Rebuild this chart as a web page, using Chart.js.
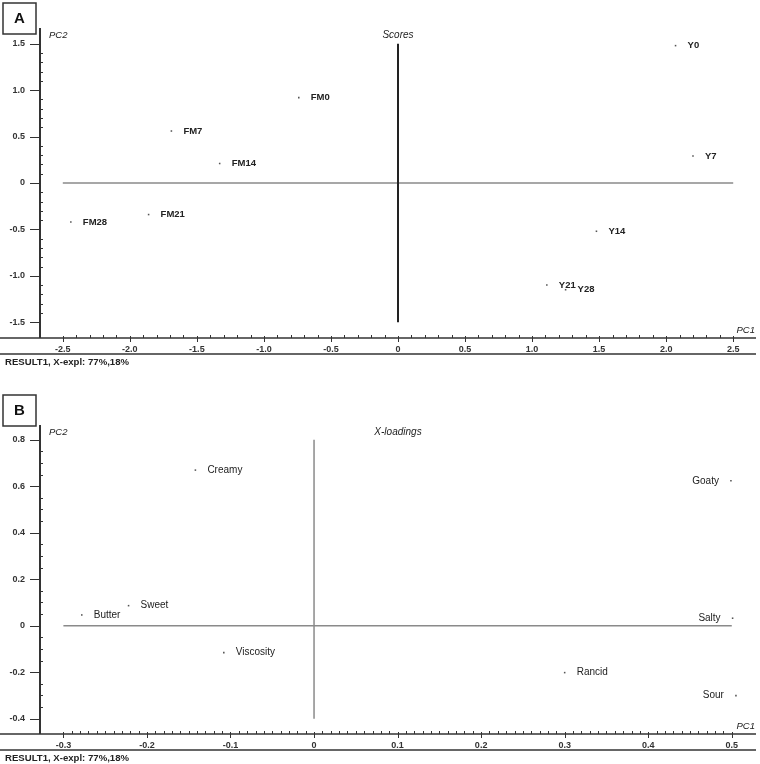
<!DOCTYPE html>
<html>
<head>
<meta charset="utf-8">
<script src="https://cdn.jsdelivr.net/npm/chart.js@4"></script>
<style>
  html, body { margin: 0; padding: 0; background: #fff; }
  canvas { display: block; }
</style>
</head>
<body>
<canvas id="scoresChart" width="760" height="382"></canvas>
<canvas id="loadingsChart" width="760" height="382"></canvas>
<script>
// Panel A: scores
const scoreNames = ['FM0', 'FM7', 'FM14', 'FM21', 'FM28', 'Y0', 'Y7', 'Y14', 'Y21', 'Y28'];
const scorePC1 = [-0.74, -1.69, -1.33, -1.86, -2.44, 2.07, 2.20, 1.48, 1.11, 1.25];
const scorePC2 = [0.92, 0.56, 0.21, -0.34, -0.42, 1.48, 0.29, -0.52, -1.10, -1.15];
const scoreTicksX = [-2.5, -2.0, -1.5, -1.0, -0.5, 0, 0.5, 1.0, 1.5, 2.0, 2.5];
const scoreTicksY = [-1.5, -1.0, -0.5, 0, 0.5, 1.0, 1.5];

// Panel B: X-loadings
const loadingNames = ['Creamy', 'Sweet', 'Butter', 'Viscosity', 'Goaty', 'Salty', 'Rancid', 'Sour'];
const loadingPC1 = [-0.142, -0.222, -0.278, -0.108, 0.499, 0.501, 0.300, 0.505];
const loadingPC2 = [0.669, 0.086, 0.046, -0.116, 0.623, 0.032, -0.202, -0.301];
const loadingTicksX = [-0.3, -0.2, -0.1, 0, 0.1, 0.2, 0.3, 0.4, 0.5];
const loadingTicksY = [-0.4, -0.2, 0, 0.2, 0.4, 0.6, 0.8];

const FONT = '"Liberation Sans", Arial, sans-serif';
const fmt = v => Math.abs(v) < 1e-9 ? '0' : v.toFixed(1);

const decorations = {
  id: 'decorations',
  beforeDatasetsDraw(chart) {
    const o = chart.options.plugins.decorations;
    const { ctx, chartArea: a, scales: { x, y } } = chart;
    ctx.save();
    // zero lines
    ctx.strokeStyle = '#8a8a8a';
    ctx.lineWidth = 1.5;
    ctx.beginPath();
    ctx.moveTo(x.getPixelForValue(o.hLine[0]), y.getPixelForValue(0));
    ctx.lineTo(x.getPixelForValue(o.hLine[1]), y.getPixelForValue(0));
    ctx.stroke();
    ctx.strokeStyle = o.vColor;
    ctx.lineWidth = o.vWidth;
    ctx.beginPath();
    ctx.moveTo(x.getPixelForValue(0), y.getPixelForValue(o.vLine[0]));
    ctx.lineTo(x.getPixelForValue(0), y.getPixelForValue(o.vLine[1]));
    ctx.stroke();

    // axes
    ctx.strokeStyle = '#333';
    ctx.lineWidth = 1.5;
    ctx.beginPath();
    ctx.moveTo(0, a.bottom);
    ctx.lineTo(a.right, a.bottom);
    ctx.stroke();
    ctx.lineWidth = 2;
    ctx.beginPath();
    ctx.moveTo(a.left, a.top);
    ctx.lineTo(a.left, a.bottom);
    ctx.stroke();

    // ticks
    ctx.lineWidth = 1;
    const xt = o.xTicks, yt = o.yTicks;
    ctx.beginPath();
    xt.forEach(v => {
      const px = Math.round(x.getPixelForValue(v)) + 0.5;
      ctx.moveTo(px, a.bottom - 2); ctx.lineTo(px, a.bottom + 4);
    });
    for (let i = 0; i < xt.length - 1; i++) {
      for (let k = 1; k < o.xSub; k++) {
        const px = Math.round(x.getPixelForValue(xt[i] + (xt[i + 1] - xt[i]) * k / o.xSub)) + 0.5;
        ctx.moveTo(px, a.bottom); ctx.lineTo(px, a.bottom - 3);
      }
    }
    yt.forEach(v => {
      const py = Math.round(y.getPixelForValue(v)) + 0.5;
      ctx.moveTo(a.left - 10, py); ctx.lineTo(a.left + 1, py);
    });
    for (let i = 0; i < yt.length - 1; i++) {
      for (let k = 1; k < o.ySub; k++) {
        const py = Math.round(y.getPixelForValue(yt[i] + (yt[i + 1] - yt[i]) * k / o.ySub)) + 0.5;
        ctx.moveTo(a.left, py); ctx.lineTo(a.left + 3, py);
      }
    }
    ctx.stroke();

    // bottom rule and footer
    ctx.strokeStyle = '#333';
    ctx.lineWidth = 1.5;
    ctx.beginPath();
    ctx.moveTo(0, a.bottom + 16);
    ctx.lineTo(a.right, a.bottom + 16);
    ctx.stroke();
    ctx.fillStyle = '#222';
    ctx.textBaseline = 'middle';
    ctx.textAlign = 'left';
    ctx.font = 'bold 9.6px ' + FONT;
    ctx.fillText('RESULT1, X-expl: 77%,18%', 5, a.bottom + 24);

    // titles
    ctx.font = 'italic 9.5px ' + FONT;
    ctx.fillText('PC2', 49, a.top + 7);
    ctx.textAlign = 'right';
    ctx.fillText('PC1', a.right - 1, a.bottom - 8);
    ctx.textAlign = 'center';
    ctx.font = 'italic 10px ' + FONT;
    ctx.fillText(o.title, (a.left + a.right) / 2, a.top + 7);

    // panel letter
    ctx.fillStyle = '#fff';
    ctx.strokeStyle = '#333';
    ctx.lineWidth = 1.5;
    ctx.fillRect(3, o.boxTop, 33, 31);
    ctx.strokeRect(3, o.boxTop, 33, 31);
    ctx.fillStyle = '#111';
    ctx.font = 'bold 15px ' + FONT;
    ctx.fillText(o.letter, 19.5, o.boxTop + 16);
    ctx.restore();
  },
  afterDatasetsDraw(chart) {
    const o = chart.options.plugins.decorations;
    const { ctx } = chart;
    const meta = chart.getDatasetMeta(0);
    ctx.save();
    ctx.fillStyle = '#222';
    ctx.textBaseline = 'middle';
    ctx.font = o.labelFont;
    meta.data.forEach((pt, i) => {
      const left = o.leftLabels.includes(o.names[i]);
      ctx.textAlign = left ? 'right' : 'left';
      ctx.fillText(o.names[i], pt.x + (left ? -12 : 12), pt.y);
    });
    ctx.restore();
  }
};

function scatterPanel(canvasId, p) {
  const tickFont = { family: FONT, size: 9, weight: 'bold' };
  return new Chart(document.getElementById(canvasId), {
    type: 'scatter',
    data: {
      datasets: [{
        data: p.pc1.map((v, i) => ({ x: v, y: p.pc2[i] })),
        pointStyle: 'rect',
        pointRadius: 1.1,
        pointBackgroundColor: '#555',
        pointBorderWidth: 0,
      }],
    },
    options: {
      responsive: false,
      animation: false,
      layout: { padding: { left: 0, right: 2, top: p.padTop, bottom: p.padBottom } },
      plugins: {
        legend: { display: false },
        tooltip: { enabled: false },
        decorations: {
          title: p.title, letter: p.letter, boxTop: p.boxTop,
          xTicks: p.xTicks, yTicks: p.yTicks, xSub: p.xSub, ySub: p.ySub,
          hLine: p.hLine, vLine: p.vLine, vColor: p.vColor, vWidth: p.vWidth,
          names: p.names, leftLabels: p.leftLabels, labelFont: p.labelFont,
        },
      },
      scales: {
        x: {
          type: 'linear', min: p.xRange[0], max: p.xRange[1],
          grid: { display: false, drawTicks: false }, border: { display: false },
          afterBuildTicks: s => { s.ticks = p.xTicks.map(v => ({ value: v })); },
          afterFit: s => { s.height = 16; },
          ticks: { font: tickFont, color: '#333', padding: 6, maxRotation: 0, autoSkip: false, callback: fmt },
        },
        y: {
          type: 'linear', min: p.yRange[0], max: p.yRange[1],
          grid: { display: false, drawTicks: false }, border: { display: false },
          afterBuildTicks: s => { s.ticks = p.yTicks.map(v => ({ value: v })); },
          afterFit: s => { s.width = 40; },
          ticks: { font: tickFont, color: '#333', padding: 15, autoSkip: false, callback: fmt },
        },
      },
    },
    plugins: [decorations],
  });
}

scatterPanel('scoresChart', {
  title: 'Scores', letter: 'A', boxTop: 3,
  pc1: scorePC1, pc2: scorePC2, names: scoreNames, leftLabels: [],
  labelFont: 'bold 9.5px ' + FONT,
  xRange: [-2.67, 2.67], yRange: [-1.67, 1.67],
  xTicks: scoreTicksX, yTicks: scoreTicksY, xSub: 5, ySub: 5,
  hLine: [-2.5, 2.5], vLine: [-1.5, 1.5], vColor: '#222', vWidth: 2,
  padTop: 28, padBottom: 28,
});

scatterPanel('loadingsChart', {
  title: 'X-loadings', letter: 'B', boxTop: 13,
  pc1: loadingPC1, pc2: loadingPC2, names: loadingNames, leftLabels: ['Goaty', 'Salty', 'Sour'],
  labelFont: '10px ' + FONT,
  xRange: [-0.328, 0.529], yRange: [-0.466, 0.863],
  xTicks: loadingTicksX, yTicks: loadingTicksY, xSub: 10, ySub: 4,
  hLine: [-0.3, 0.5], vLine: [-0.4, 0.8], vColor: '#8a8a8a', vWidth: 1.5,
  padTop: 43, padBottom: 14,
});
</script>
</body>
</html>
